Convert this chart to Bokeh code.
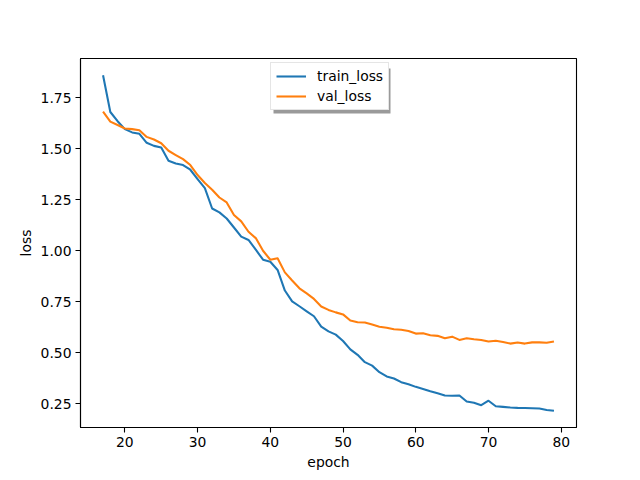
from bokeh.plotting import figure
from bokeh.models import Range1d, FixedTicker, PrintfTickFormatter, Legend, LegendItem, BoxAnnotation
from bokeh.embed import file_html
from bokeh.resources import INLINE

epochs = list(range(17, 80))
train_loss = [1.860, 1.680, 1.635, 1.596, 1.580, 1.573, 1.529, 1.514, 1.506, 1.441,
              1.428, 1.420, 1.397, 1.351, 1.307, 1.207, 1.188, 1.158, 1.114, 1.069,
              1.053, 1.005, 0.956, 0.946, 0.906, 0.805, 0.752, 0.728, 0.703, 0.679,
              0.628, 0.605, 0.589, 0.558, 0.517, 0.490, 0.454, 0.437, 0.405, 0.384,
              0.374, 0.356, 0.346, 0.333, 0.323, 0.312, 0.302, 0.291, 0.289, 0.291,
              0.261, 0.255, 0.243, 0.265, 0.238, 0.235, 0.232, 0.230, 0.229, 0.228,
              0.227, 0.220, 0.216]
val_loss = [1.682, 1.633, 1.616, 1.599, 1.596, 1.591, 1.558, 1.545, 1.527, 1.490,
            1.469, 1.449, 1.420, 1.371, 1.332, 1.299, 1.261, 1.237, 1.175, 1.144,
            1.093, 1.062, 1.000, 0.956, 0.963, 0.894, 0.854, 0.816, 0.791, 0.764,
            0.727, 0.710, 0.698, 0.688, 0.658, 0.650, 0.648, 0.638, 0.628, 0.623,
            0.615, 0.613, 0.607, 0.594, 0.596, 0.586, 0.583, 0.571, 0.579, 0.563,
            0.571, 0.566, 0.563, 0.555, 0.559, 0.553, 0.545, 0.550, 0.545, 0.551,
            0.551, 0.549, 0.555]
x_ticks = [20, 30, 40, 50, 60, 70, 80]
y_ticks = [0.25, 0.50, 0.75, 1.00, 1.25, 1.50, 1.75]
series_names = ["train_loss", "val_loss"]
colors = ["#1f77b4", "#ff7f0e"]

xmin, xmax = min(epochs), max(epochs)
allv = train_loss + val_loss
ymin, ymax = min(allv), max(allv)
xpad = (xmax - xmin) * 0.05
ypad = (ymax - ymin) * 0.05
x0, x1 = xmin - xpad, xmax + xpad
y0, y1 = ymin - ypad, ymax + ypad

FONT = "DejaVu Sans"
FW, FH = 496.0, 369.0

p = figure(width=640, height=480, output_backend="svg", toolbar_location=None,
           x_range=Range1d(x0, x1), y_range=Range1d(y0, y1),
           min_border_left=80, min_border_right=64, min_border_top=58, min_border_bottom=53)
p.background_fill_color = "white"
p.border_fill_color = "white"
p.outline_line_color = "black"
p.outline_line_width = 1.1
p.xgrid.visible = False
p.ygrid.visible = False

for ax in (p.xaxis[0], p.yaxis[0]):
    ax.major_tick_in = 0
    ax.major_tick_out = 5
    ax.minor_tick_line_color = None
    ax.major_label_text_font = FONT
    ax.major_label_text_font_size = "13.9px"
    ax.major_label_text_color = "black"
    ax.major_label_standoff = 4
    ax.axis_label_text_font = FONT
    ax.axis_label_text_font_size = "13.9px"
    ax.axis_label_text_font_style = "normal"
    ax.axis_label_text_color = "black"
    ax.axis_line_color = "black"
    ax.axis_line_width = 1.1
    ax.major_tick_line_color = "black"
    ax.major_tick_line_width = 1.1

p.xaxis.ticker = FixedTicker(ticks=x_ticks)
p.yaxis.ticker = FixedTicker(ticks=y_ticks)
p.yaxis.formatter = PrintfTickFormatter(format="%.2f")
p.xaxis.axis_label = "epoch"
p.yaxis.axis_label = "loss"
p.xaxis.axis_label_standoff = 4
p.yaxis.axis_label_standoff = 4

r1 = p.line(epochs, train_loss, line_color=colors[0], line_width=2.08, line_join="round")
r2 = p.line(epochs, val_loss, line_color=colors[1], line_width=2.08, line_join="round")

# legend shadow (frame-relative pixel offsets converted to data units)
pxx = (x1 - x0) / FW
pxy = (y1 - y0) / FH
shadow = BoxAnnotation(left=x0 + 193 * pxx, right=x0 + 310 * pxx,
                       top=y1 - 10 * pxy, bottom=y1 - 55 * pxy,
                       fill_color="#9a9a9a", fill_alpha=1.0, line_color=None)
p.add_layout(shadow)

legend = Legend(items=[LegendItem(label=series_names[0], renderers=[r1]),
                       LegendItem(label=series_names[1], renderers=[r2])],
                location=(190, 317))
legend.label_text_font = FONT
legend.label_text_font_size = "13.9px"
legend.label_text_color = "black"
legend.glyph_width = 30
legend.glyph_height = 14
legend.label_height = 14
legend.label_standoff = 11
legend.spacing = 4
legend.padding = 5
legend.margin = 0
legend.border_line_color = "#cccccc"
legend.border_line_width = 1
legend.background_fill_color = "white"
legend.background_fill_alpha = 1.0
p.add_layout(legend, "center")

open("out.html", "w").write(file_html(p, INLINE))
